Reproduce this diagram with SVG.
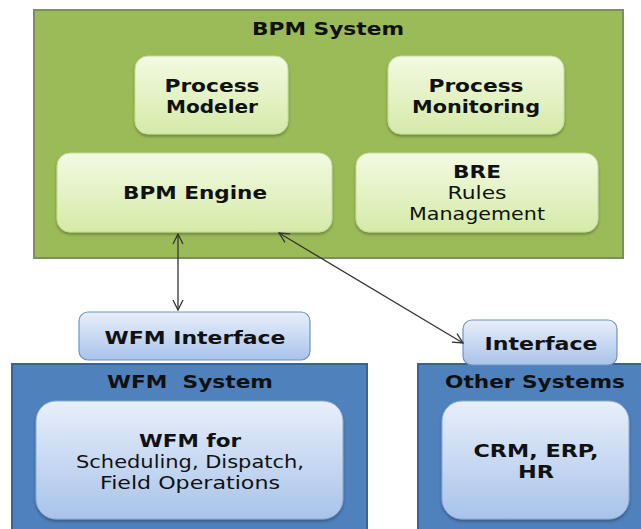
<svg xmlns="http://www.w3.org/2000/svg" width="641" height="529" viewBox="0 0 641 529">
<defs>
<linearGradient id="gGreen" x1="0" y1="0" x2="0" y2="1">
<stop offset="0" stop-color="#f3fae3"/>
<stop offset="1" stop-color="#d5eaa8"/>
</linearGradient>
<linearGradient id="gBlue" x1="0" y1="0" x2="0" y2="1">
<stop offset="0" stop-color="#e8effa"/>
<stop offset="1" stop-color="#a9c3ea"/>
</linearGradient>
<filter id="sh" x="-10%" y="-10%" width="120%" height="130%">
<feDropShadow dx="0" dy="2" stdDeviation="1.5" flood-color="#000" flood-opacity="0.3"/>
</filter>
<marker id="ah" viewBox="0 0 12 12" refX="11" refY="6" markerWidth="12" markerHeight="12" markerUnits="userSpaceOnUse" orient="auto-start-reverse">
<path d="M1,1 L11,6 L1,11" fill="none" stroke="#333" stroke-width="1.3"/>
</marker>
</defs>
<style>
.t{font-family:"DejaVu Sans","Verdana",sans-serif;font-size:17.5px;fill:#111;text-anchor:middle}
.b{font-weight:bold}
.outerG{fill:#9bbb59;stroke:#7d8f5c;stroke-width:2}
.outerB{fill:#4f81bd;stroke:#3b6391;stroke-width:2}
.inG{fill:url(#gGreen);stroke:#c5dc95;stroke-width:1;filter:url(#sh)}
.inB{fill:url(#gBlue);stroke:#89a9d6;stroke-width:1;filter:url(#sh)}
.ifc{fill:url(#gBlue);stroke:#6f93c4;stroke-width:1.2}
.conn{stroke:#333;stroke-width:1.3;fill:none}
</style>

<g id="bpm-system">
<rect class="outerG" x="34" y="10" width="589" height="248"/>
<text class="t b" x="328" y="35" textLength="152" lengthAdjust="spacingAndGlyphs">BPM System</text>
</g>

<g id="process-modeler">
<rect class="inG" x="135" y="56" width="153" height="78" rx="13"/>
<text class="t b" x="212" y="92" textLength="95" lengthAdjust="spacingAndGlyphs">Process</text>
<text class="t b" x="212" y="113" textLength="92" lengthAdjust="spacingAndGlyphs">Modeler</text>
</g>

<g id="process-monitoring">
<rect class="inG" x="388" y="56" width="176" height="78" rx="13"/>
<text class="t b" x="476" y="92" textLength="95" lengthAdjust="spacingAndGlyphs">Process</text>
<text class="t b" x="476" y="113" textLength="128" lengthAdjust="spacingAndGlyphs">Monitoring</text>
</g>

<g id="bpm-engine">
<rect class="inG" x="57" y="153" width="275" height="79" rx="13"/>
<text class="t b" x="195" y="199" textLength="144" lengthAdjust="spacingAndGlyphs">BPM Engine</text>
</g>

<g id="bre">
<rect class="inG" x="356" y="153" width="242" height="79" rx="13"/>
<text class="t b" x="477" y="178" textLength="48" lengthAdjust="spacingAndGlyphs">BRE</text>
<text class="t" x="477" y="199" textLength="59" lengthAdjust="spacingAndGlyphs">Rules</text>
<text class="t" x="477" y="220" textLength="136" lengthAdjust="spacingAndGlyphs">Management</text>
</g>

<g id="wfm-system">
<rect class="outerB" x="12" y="364" width="355" height="175"/>
<text class="t b" x="190" y="388" textLength="166" lengthAdjust="spacingAndGlyphs">WFM&#160; System</text>
</g>

<g id="wfm-for">
<rect class="inB" x="36" y="401" width="307" height="118" rx="20"/>
<text class="t b" x="190" y="447" textLength="102" lengthAdjust="spacingAndGlyphs">WFM for</text>
<text class="t" x="190" y="468" textLength="228" lengthAdjust="spacingAndGlyphs">Scheduling, Dispatch,</text>
<text class="t" x="190" y="489" textLength="180" lengthAdjust="spacingAndGlyphs">Field Operations</text>
</g>

<g id="other-systems">
<rect class="outerB" x="418" y="364" width="240" height="175"/>
<text class="t b" x="535" y="388" textLength="180" lengthAdjust="spacingAndGlyphs">Other Systems</text>
</g>

<g id="crm-erp-hr">
<rect class="inB" x="442" y="401" width="187" height="118" rx="20"/>
<text class="t b" x="536" y="457" textLength="125" lengthAdjust="spacingAndGlyphs">CRM, ERP,</text>
<text class="t b" x="536" y="478" textLength="36" lengthAdjust="spacingAndGlyphs">HR</text>
</g>

<g id="wfm-interface">
<rect class="ifc" x="79" y="312" width="231" height="48" rx="9"/>
<text class="t b" x="195" y="344" textLength="181" lengthAdjust="spacingAndGlyphs">WFM Interface</text>
</g>

<g id="interface">
<rect class="ifc" x="463" y="320" width="154" height="45" rx="9"/>
<text class="t b" x="541" y="350" textLength="113" lengthAdjust="spacingAndGlyphs">Interface</text>
</g>

<g id="connectors">
<line class="conn" x1="178" y1="234" x2="178" y2="310" marker-start="url(#ah)" marker-end="url(#ah)"/>
<line class="conn" x1="279" y1="233" x2="463" y2="343" marker-start="url(#ah)" marker-end="url(#ah)"/>
</g>
</svg>
